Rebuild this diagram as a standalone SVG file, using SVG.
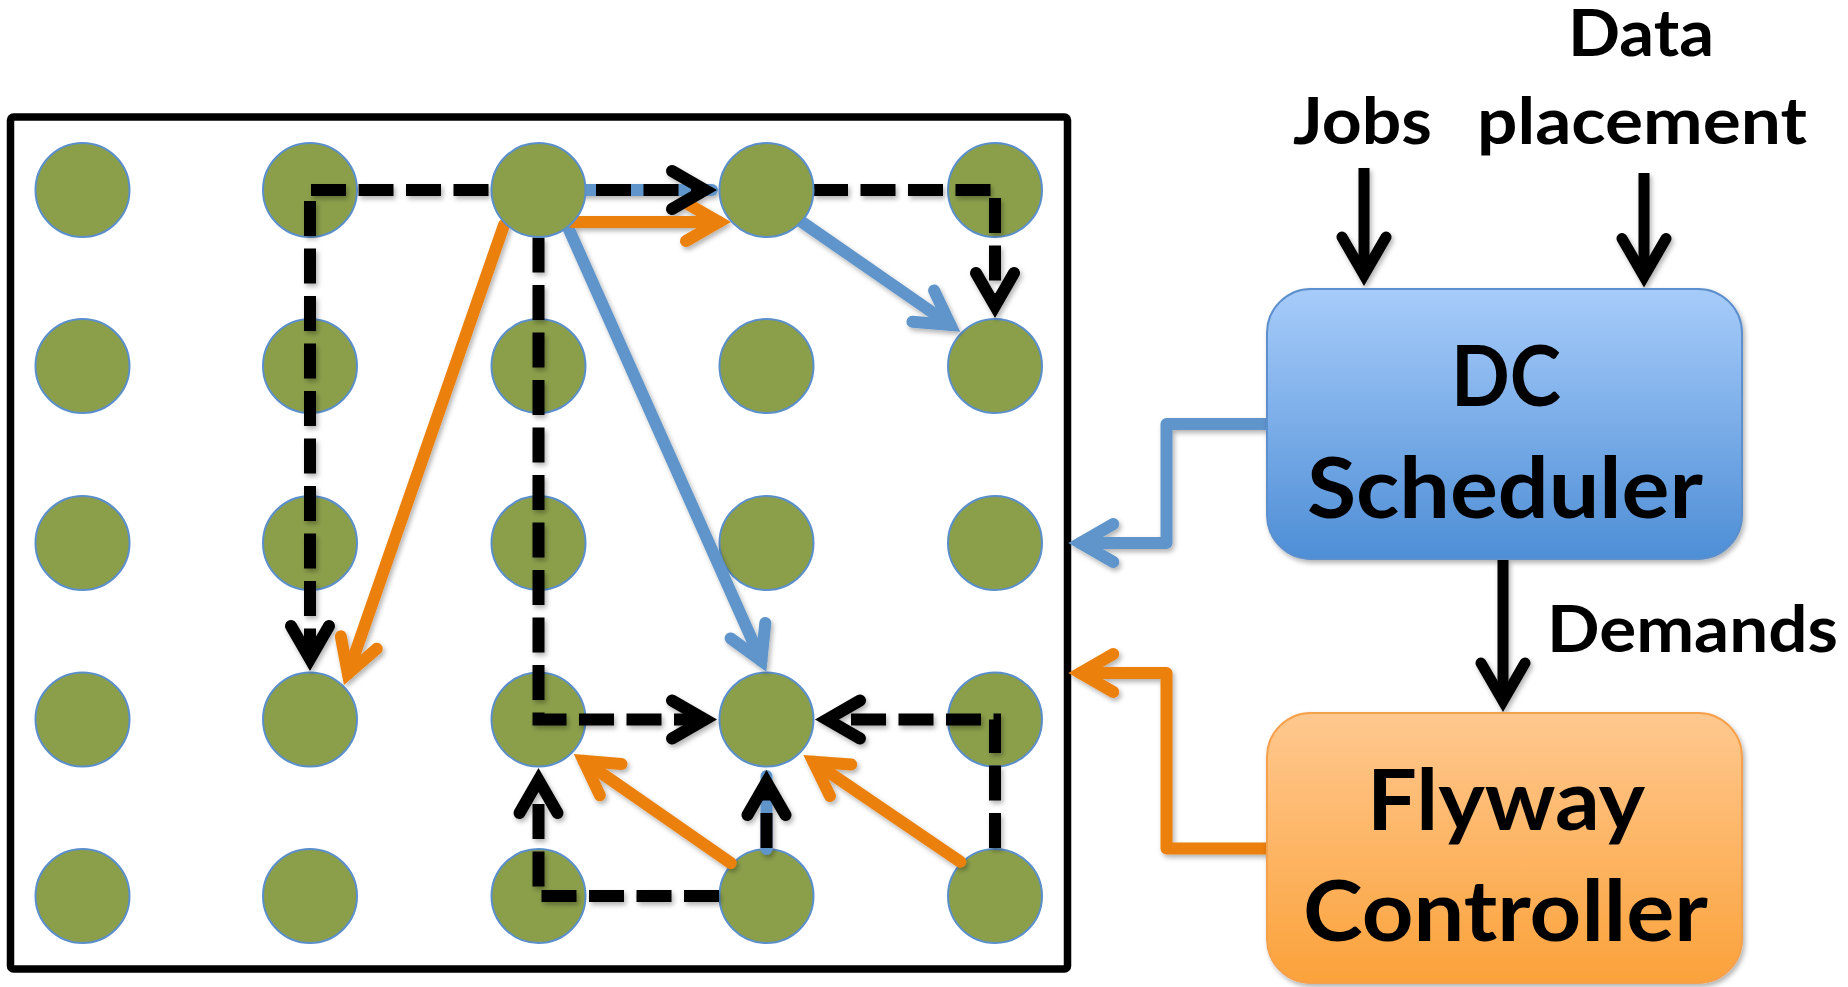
<svg xmlns="http://www.w3.org/2000/svg" width="1848" height="987" viewBox="0 0 1848 987">
<style>
.node{fill:#8B9F4B;stroke:#5B8FCB;stroke-width:2}
.dash{fill:none;stroke:#000;stroke-width:12;stroke-dasharray:35 12.5;stroke-linecap:butt}
.blue{fill:none;stroke:#5F95CA;stroke-width:12;stroke-linecap:round;stroke-linejoin:round}
.orange{fill:none;stroke:#EB800C;stroke-width:12;stroke-linecap:round;stroke-linejoin:round}
.solid{fill:none;stroke:#000;stroke-width:11;stroke-linecap:butt}
.lbl{font-family:Lato,"Liberation Sans",sans-serif;font-weight:bold;fill:#000;text-anchor:middle}
.top{font-size:65px}
.big{font-size:84px}
</style>
<defs>
<marker id="ahBlack" markerUnits="userSpaceOnUse" viewBox="-50 -30 70 60" markerWidth="70" markerHeight="60" refX="0" refY="0" orient="auto" overflow="visible">
<path d="M-33,-19 L0,0 L-33,19" fill="none" stroke="#000" stroke-width="12" stroke-linecap="round" stroke-linejoin="miter"/>
</marker>
<marker id="ahBlue" markerUnits="userSpaceOnUse" viewBox="-50 -30 70 60" markerWidth="70" markerHeight="60" refX="0" refY="0" orient="auto" overflow="visible">
<path d="M-33,-19 L0,0 L-33,19" fill="none" stroke="#5F95CA" stroke-width="12" stroke-linecap="round" stroke-linejoin="miter"/>
</marker>
<marker id="ahOrange" markerUnits="userSpaceOnUse" viewBox="-50 -30 70 60" markerWidth="70" markerHeight="60" refX="0" refY="0" orient="auto" overflow="visible">
<path d="M-33,-19 L0,0 L-33,19" fill="none" stroke="#EB800C" stroke-width="12" stroke-linecap="round" stroke-linejoin="miter"/>
</marker>
<marker id="ahSolid" markerUnits="userSpaceOnUse" viewBox="-50 -30 70 60" markerWidth="70" markerHeight="60" refX="0" refY="0" orient="auto" overflow="visible">
<path d="M-38,-22 L0,0 L-38,22" fill="none" stroke="#000" stroke-width="11" stroke-linecap="round" stroke-linejoin="miter"/>
</marker>
<linearGradient id="gBlue" x1="0" y1="0" x2="0" y2="1">
<stop offset="0" stop-color="#A7CCFA"/>
<stop offset="1" stop-color="#4E8ED6"/>
</linearGradient>
<linearGradient id="gOrange" x1="0" y1="0" x2="0" y2="1">
<stop offset="0" stop-color="#FFC88F"/>
<stop offset="1" stop-color="#FBA23B"/>
</linearGradient>
<filter id="sh" x="-10%" y="-10%" width="130%" height="130%">
<feDropShadow dx="2" dy="3" stdDeviation="2.5" flood-color="#000" flood-opacity="0.3"/>
</filter>
</defs>
<rect width="1848" height="987" fill="#fff"/>

<g id="frame">
<rect x="10.5" y="117" width="1057" height="852" rx="3" fill="none" stroke="#000" stroke-width="7.5"/>
</g>

<g id="grid-nodes">
<g id="n-c1r1"><circle class="node" cx="82.5" cy="190" r="47"/></g>
<g id="n-c2r1"><circle class="node" cx="310" cy="190" r="47"/></g>
<g id="n-c5r1"><circle class="node" cx="995" cy="190" r="47"/></g>
<g id="n-c1r2"><circle class="node" cx="82.5" cy="366" r="47"/></g>
<g id="n-c2r2"><circle class="node" cx="310" cy="366" r="47"/></g>
<g id="n-c3r2"><circle class="node" cx="538.5" cy="366" r="47"/></g>
<g id="n-c4r2"><circle class="node" cx="766.5" cy="366" r="47"/></g>
<g id="n-c5r2"><circle class="node" cx="995" cy="366" r="47"/></g>
<g id="n-c1r3"><circle class="node" cx="82.5" cy="543" r="47"/></g>
<g id="n-c2r3"><circle class="node" cx="310" cy="543" r="47"/></g>
<g id="n-c3r3"><circle class="node" cx="538.5" cy="543" r="47"/></g>
<g id="n-c4r3"><circle class="node" cx="766.5" cy="543" r="47"/></g>
<g id="n-c5r3"><circle class="node" cx="995" cy="543" r="47"/></g>
<g id="n-c1r4"><circle class="node" cx="82.5" cy="719.5" r="47"/></g>
<g id="n-c2r4"><circle class="node" cx="310" cy="719.5" r="47"/></g>
<g id="n-c3r4"><circle class="node" cx="538.5" cy="719.5" r="47"/></g>
<g id="n-c4r4"><circle class="node" cx="766.5" cy="719.5" r="47"/></g>
<g id="n-c5r4"><circle class="node" cx="995" cy="719.5" r="47"/></g>
<g id="n-c1r5"><circle class="node" cx="82.5" cy="896" r="47"/></g>
<g id="n-c2r5"><circle class="node" cx="310" cy="896" r="47"/></g>
<g id="n-c3r5"><circle class="node" cx="538.5" cy="896" r="47"/></g>
<g id="n-c4r5"><circle class="node" cx="766.5" cy="896" r="47"/></g>
<g id="n-c5r5"><circle class="node" cx="995" cy="896" r="47"/></g>
</g>

<g id="connectors" filter="url(#sh)">
<path class="blue" d="M585 190 H712"/>
<path class="blue" d="M766.5 849 V776"/>
<path class="blue" d="M567 225 L761.4 660.8" marker-end="url(#ahBlue)"/>
<path class="blue" d="M801.5 221.7 L950.4 324.9" marker-end="url(#ahBlue)"/>
<path class="orange" d="M572 222 H719" marker-end="url(#ahOrange)"/>
<path class="orange" d="M504 225 L347.9 673.7" marker-end="url(#ahOrange)"/>
<path class="orange" d="M730.7 863 L583.6 760.8" marker-end="url(#ahOrange)"/>
<path class="orange" d="M960.3 861.7 L813.3 761.7" marker-end="url(#ahOrange)"/>
<path class="dash" d="M311 190 H705" marker-end="url(#ahBlack)"/>
<path class="dash" d="M310 201 V659" marker-end="url(#ahBlack)"/>
<path class="dash" d="M813 190 H995 V306" marker-end="url(#ahBlack)"/>
<path class="dash" d="M538.5 190 V719.5 H705" marker-end="url(#ahBlack)"/>
<path class="dash" d="M995 848 V719.5 H827" marker-end="url(#ahBlack)"/>
<path class="dash" d="M719 896 H538.5 V780" marker-end="url(#ahBlack)"/>
<path class="dash" d="M766.5 848 V782" marker-end="url(#ahBlack)"/>
<path class="blue" d="M1267 424 H1166.5 V543 H1080.3" marker-end="url(#ahBlue)"/>
<path class="orange" d="M1267 848.5 H1166.5 V673 H1080.3" marker-end="url(#ahOrange)"/>
<path class="solid" d="M1364 168 V275" marker-end="url(#ahSolid)"/>
<path class="solid" d="M1644 173 V276.5" marker-end="url(#ahSolid)"/>
<path class="solid" d="M1503 559 V701" marker-end="url(#ahSolid)"/>
</g>

<g id="n-c3r1"><circle class="node" cx="538.5" cy="190" r="47"/></g>
<g id="n-c4r1"><circle class="node" cx="766.5" cy="190" r="47"/></g>

<g id="dc-scheduler">
<rect x="1267" y="289" width="475" height="270" rx="44" fill="url(#gBlue)" stroke="#5B8FCC" stroke-width="2" filter="url(#sh)"/>
<text class="lbl big" x="1506" y="406" textLength="110" lengthAdjust="spacingAndGlyphs">DC</text>
<text class="lbl big" x="1505" y="518" textLength="396" lengthAdjust="spacingAndGlyphs">Scheduler</text>
</g>

<g id="flyway-controller">
<rect x="1267" y="713" width="475" height="270" rx="44" fill="url(#gOrange)" stroke="#F5A04C" stroke-width="2" filter="url(#sh)"/>
<text class="lbl big" x="1506" y="830" textLength="278" lengthAdjust="spacingAndGlyphs">Flyway</text>
<text class="lbl big" x="1505.5" y="941" textLength="405" lengthAdjust="spacingAndGlyphs">Controller</text>
</g>

<g id="labels">
<text class="lbl top" x="1362.5" y="143.5" textLength="139" lengthAdjust="spacingAndGlyphs">Jobs</text>
<text class="lbl top" x="1641" y="56" textLength="146" lengthAdjust="spacingAndGlyphs">Data</text>
<text class="lbl top" x="1642" y="143.5" textLength="330" lengthAdjust="spacingAndGlyphs">placement</text>
<text class="lbl top" x="1692.5" y="651.5" textLength="291" lengthAdjust="spacingAndGlyphs">Demands</text>
</g>
</svg>
